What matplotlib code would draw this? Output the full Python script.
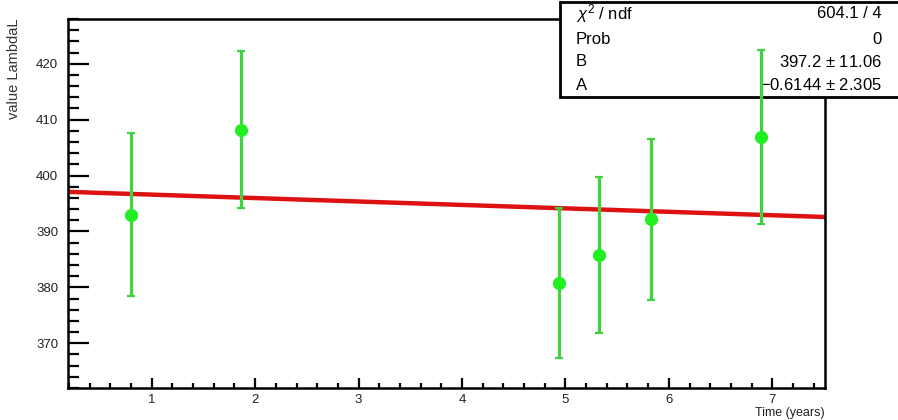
import matplotlib.pyplot as plt
from matplotlib.patches import Rectangle
from matplotlib.ticker import MultipleLocator

# measured points (time in years, value LambdaL, error)
time_years = [0.80, 1.86, 4.94, 5.32, 5.83, 6.89]
lambda_vals = [393.0, 408.2, 380.8, 385.8, 392.2, 406.9]
lambda_errs = [14.6, 14.0, 13.4, 13.9, 14.4, 15.6]

# fit results y = B + A*x
fit_B = 397.2
fit_A = -0.6144
fit_x_range = [0.19, 7.51]

stats_labels = ["$\\chi^{2}$ / ndf", "Prob", "B", "A"]
stats_values = ["604.1 / 4", "0", "397.2 $\\pm$ 11.06", "\u22120.6144 $\\pm$ 2.305"]

plt.rcParams['font.family'] = ['Liberation Sans', 'DejaVu Sans']
plt.rcParams['mathtext.fontset'] = 'custom'
plt.rcParams['mathtext.rm'] = 'Liberation Sans'
plt.rcParams['mathtext.it'] = 'Liberation Sans:italic'


def main():
    fig = plt.figure(figsize=(8.98, 4.2), dpi=100)
    ax = fig.add_axes([0.0757, 0.0762, 0.843, 0.8786])

    fit_y = [fit_B + fit_A * x for x in fit_x_range]
    ax.plot(fit_x_range, fit_y, '-', color='#dd1111', lw=3.2, zorder=2,
            solid_capstyle='butt')

    ax.errorbar(time_years, lambda_vals, yerr=lambda_errs, fmt='o',
                color='#22ee22', ecolor='#3fd43f', elinewidth=2.3,
                markersize=8.5, capsize=2.8, capthick=1.6, zorder=4,
                clip_on=False)

    ax.set_xlim(0.19, 7.51)
    ax.set_ylim(362, 428)

    ax.xaxis.set_major_locator(MultipleLocator(1))
    ax.xaxis.set_minor_locator(MultipleLocator(0.2))
    ax.yaxis.set_major_locator(MultipleLocator(10))
    ax.yaxis.set_minor_locator(MultipleLocator(2))

    ax.tick_params(axis='both', which='both', direction='in', width=1.6,
                   colors='black', labelcolor='#222222', labelsize=9.5)
    ax.tick_params(axis='y', which='major', length=15, pad=7)
    ax.tick_params(axis='y', which='minor', length=8)
    ax.tick_params(axis='x', which='major', length=7, pad=4)
    ax.tick_params(axis='x', which='minor', length=3.6)

    for sp in ax.spines.values():
        sp.set_linewidth(1.8)

    ax.set_xlabel("Time (years)", fontsize=9, color='#222222')
    ax.xaxis.set_label_coords(1.0, -0.052)
    ax.xaxis.label.set_ha('right')
    ax.set_ylabel("value LambdaL", fontsize=10.5, color='#333333')
    ax.yaxis.set_label_coords(-0.062, 1.0)
    ax.yaxis.label.set_ha('right')

    # stats box, sits over the frame but under the points
    box = Rectangle((0.6236, 0.769), 0.4, 0.226, transform=fig.transFigure,
                    facecolor='white', edgecolor='black', lw=2.0,
                    zorder=3, clip_on=False)
    ax.add_patch(box)

    rows_y = [1 - 14 / 420, 1 - 39 / 420, 1 - 62 / 420, 1 - 85 / 420]
    for lab, val, yy in zip(stats_labels, stats_values, rows_y):
        ax.text(0.641, yy, lab, transform=fig.transFigure, fontsize=12,
                va='center', ha='left', zorder=3.5, clip_on=False)
        ax.text(0.982, yy, val, transform=fig.transFigure, fontsize=12,
                va='center', ha='right', zorder=3.5, clip_on=False)

    fig.savefig("out.png", dpi=100)


if __name__ == '__main__':
    main()
